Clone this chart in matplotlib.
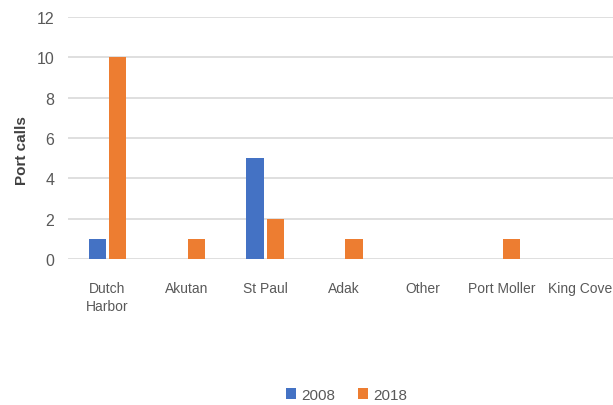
import matplotlib.pyplot as plt
import numpy as np

ports = ["Dutch\nHarbor", "Akutan", "St Paul", "Adak", "Other", "Port Moller", "King Cove"]
calls_2008 = [1, 0, 5, 0, 0, 0, 0]
calls_2018 = [10, 1, 2, 1, 0, 1, 0]

font = "Liberation Sans"

fig = plt.figure(figsize=(6.13, 4.06), dpi=100)
ax = fig.add_axes([0.111, 0.36, 0.9, 0.596])

x = np.arange(len(ports))
w = 0.22
ax.bar(x - w / 2 - 0.02, calls_2008, w, color="#4472C4", label="2008", zorder=3)
ax.bar(x + w / 2 + 0.02, calls_2018, w, color="#ED7D31", label="2018", zorder=3)

ax.set_xlim(-0.5, 6.5)
ax.set_ylim(0, 12)
ax.set_yticks(range(0, 13, 2))
ax.set_xticks(x)
ax.set_xticklabels(ports, fontfamily=font, fontsize=10, color="#595959", linespacing=1.4)
for lbl in ax.get_yticklabels():
    lbl.set_fontfamily(font)
    lbl.set_fontsize(11.5)
    lbl.set_color("#595959")
ax.tick_params(length=0, pad=10)
ax.tick_params(axis="x", pad=16)
ax.yaxis.grid(True, color="#d9d9d9", linewidth=1.2, zorder=0)
for s in ax.spines.values():
    s.set_visible(False)
ax.set_ylabel("Port calls", fontsize=11, color="#404040", fontweight="bold", fontfamily=font)
ax.yaxis.set_label_coords(-0.07, 0.45)

fig.legend(loc="center", bbox_to_anchor=(0.565, 0.025), ncol=2, frameon=False,
           handlelength=0.7, handleheight=0.7, handletextpad=0.3, columnspacing=1.5,
           prop={"family": font, "size": 11}, labelcolor="#595959")

fig.savefig("out.png", dpi=100)
